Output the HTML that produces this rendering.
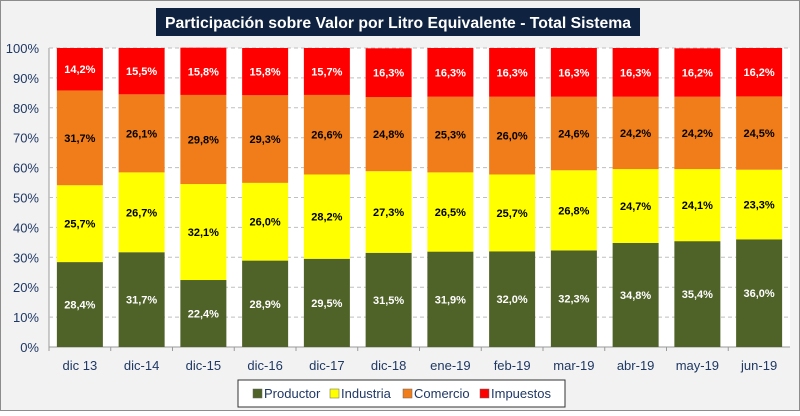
<!DOCTYPE html>
<html><head><meta charset="utf-8"><style>
body{margin:0;background:#fff}
svg text{font-family:"Liberation Sans",sans-serif}
</style></head><body>
<svg id="c" width="800" height="411" xmlns="http://www.w3.org/2000/svg">
<rect x="0.5" y="0.5" width="799" height="410" fill="#f2f2f2" stroke="#8c8c8c"/>
<rect x="156" y="8" width="484" height="28" fill="#0f2340"/>
<text x="398" y="28" text-anchor="middle" fill="#fff" font-size="16" font-weight="bold" textLength="466" lengthAdjust="spacingAndGlyphs">Participación sobre Valor por Litro Equivalente - Total Sistema</text>
<rect x="49" y="48" width="741" height="299" fill="#fff"/>
<line x1="49" y1="48" x2="49" y2="347" stroke="#999"/>
<line x1="49" y1="347" x2="790" y2="347" stroke="#999"/>
<g id="grid"></g><g id="bars"></g><g id="axes"></g>
<rect x="238" y="380" width="327" height="27" fill="#fff" stroke="#333"/>
<g id="legend"></g>
</svg>
<script>
const categories=["dic 13","dic-14","dic-15","dic-16","dic-17","dic-18","ene-19","feb-19","mar-19","abr-19","may-19","jun-19"];
const productor=[28.4,31.7,22.4,28.9,29.5,31.5,31.9,32.0,32.3,34.8,35.4,36.0];
const industria=[25.7,26.7,32.1,26.0,28.2,27.3,26.5,25.7,26.8,24.7,24.1,23.3];
const comercio=[31.7,26.1,29.8,29.3,26.6,24.8,25.3,26.0,24.6,24.2,24.2,24.5];
const impuestos=[14.2,15.5,15.8,15.8,15.7,16.3,16.3,16.3,16.3,16.3,16.2,16.2];
const yTicks=[0,10,20,30,40,50,60,70,80,90,100];
const seriesNames=["Productor","Industria","Comercio","Impuestos"];
const NS="http://www.w3.org/2000/svg";
const X0=49,X1=790,Y0=347,Y1=48;
const bw=(X1-X0)/categories.length;
const y=v=>Y0-(v/100)*(Y0-Y1);
const xc=i=>X0+bw*(i+0.5);
function mk(t,a,p){const e=document.createElementNS(NS,t);for(const k in a)e.setAttribute(k,a[k]);p.appendChild(e);return e;}
const grid=document.getElementById('grid'),bars=document.getElementById('bars'),axes=document.getElementById('axes'),leg=document.getElementById('legend');
yTicks.forEach(t=>{
 if(t>0){const l=mk('line',{x1:X0,x2:X1,y1:y(t),y2:y(t),stroke:'#bfbfbf','stroke-dasharray':'4,3'},grid);
 
 }
 const tx=mk('text',{x:X0-10,y:y(t)+5,'text-anchor':'end','font-size':13,fill:'#1f3864'},axes);tx.textContent=t+'%';
 
 
});
const colors=['#4f6228','#ffff00','#f07c1a','#ff0000'];
const txtCol=['#fff','#000','#000','#fff'];
const data=[productor,industria,comercio,impuestos];
const barW=46;
categories.forEach((c,i)=>{
 let acc=0;
 data.forEach((s,k)=>{
  const v=s[i];const top=y(acc+v),bot=y(acc);
  const r=mk('rect',{x:xc(i)-barW/2,y:top,width:barW,height:bot-top,fill:colors[k]},bars);
  
  
  const t=mk('text',{x:xc(i),y:(top+bot)/2+4,'text-anchor':'middle','font-size':11,'font-weight':'bold',fill:txtCol[k]},bars);
  t.textContent=v.toFixed(1).replace('.',',')+'%';
  
  
  acc+=v;
 });
 const tx=mk('text',{x:xc(i),y:Y0+23,'text-anchor':'middle','font-size':13,fill:'#1f3864'},axes);tx.textContent=c;
 
 
 mk('line',{x1:X0+bw*i,x2:X0+bw*i,y1:Y0,y2:Y0+4,stroke:'#999'},axes);
});
const lx=[253,330,403,480];
seriesNames.forEach((n,k)=>{
 const r=mk('rect',{x:lx[k],y:389,width:9,height:9,fill:colors[k],stroke:'#666','stroke-width':0.5},leg);
 
 
 const t=mk('text',{x:lx[k]+11,y:398,'font-size':13,fill:'#1f3864'},leg);t.textContent=n;
 
 
});
</script>
</body></html>
